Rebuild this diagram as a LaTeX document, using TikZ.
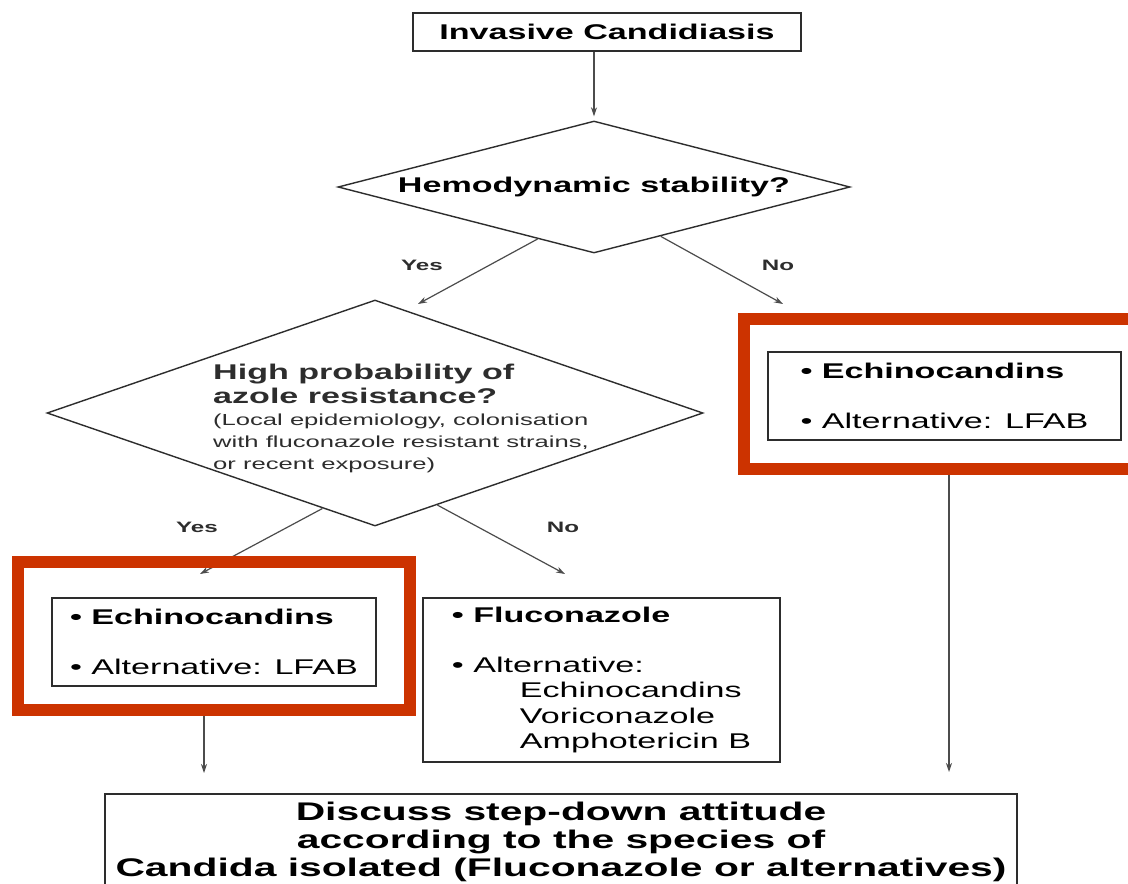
\documentclass[tikz,border=0pt]{standalone}
\usepackage{fontspec}
\setmainfont{Liberation Sans}[FakeStretch=1.6]
\usepackage{tikz}
\usetikzlibrary{shapes.geometric,arrows.meta,calc}

\definecolor{frameRed}{RGB}{204,51,0}
\definecolor{inkGray}{RGB}{45,45,45}

\begin{document}
\begin{tikzpicture}[x=1pt,y=-1pt,
  box/.style={draw=inkGray, line width=1.6pt, align=left, inner sep=0pt, font=\fontsize{21.3}{25.5}\selectfont},
  decision/.style={diamond, draw=inkGray, line width=1.4pt, inner sep=0pt, font=\bfseries\fontsize{21.3}{25.5}\selectfont},
  lbl/.style={font=\bfseries\fontsize{15.1}{18}\selectfont, text=inkGray},
  arr/.style={-{Stealth[length=9pt,width=6pt]}, draw=inkGray!85, line width=1.2pt},
  redframe/.style={draw=frameRed, line width=12pt, inner sep=0pt}]

\useasboundingbox (0,0) rectangle (1128,884);
\clip (0,0) rectangle (1128,884);
\fill[white] (0,0) rectangle (1128,884);

\node[box, minimum width=388pt, minimum height=38pt, align=center, font=\bfseries\fontsize{21.3}{25.5}\selectfont] (ic) at (607,32) {Invasive Candidiasis};

\node[decision, minimum width=512pt, minimum height=132pt, aspect=3.88] (hs) at (594,187) {Hemodynamic stability?};

\node[decision, minimum width=656pt, minimum height=226pt, aspect=2.9] (ar) at (375,413) {};
\node[anchor=west, align=left, inner sep=0pt, text=inkGray, font=\fontsize{16}{22}\selectfont] (art) at (213,418)
  {{\bfseries\fontsize{21.3}{25.5}\selectfont High probability of}\\[2pt]
   {\bfseries\fontsize{21.3}{25.5}\selectfont azole resistance?}\\
   (Local epidemiology, colonisation\\
   with fluconazole resistant strains,\\
   or recent exposure)};

\node[box, minimum width=353pt, minimum height=88pt] (ecR) at (944.5,396)
  {\textbf{• Echinocandins}\\[24pt] • Alternative: LFAB};
\node[box, minimum width=324pt, minimum height=88pt] (ecL) at (214,642)
  {\textbf{• Echinocandins}\\[24pt] • Alternative: LFAB};
\node[box, minimum width=357pt, minimum height=164pt] (fl) at (601.5,680)
  {\textbf{• Fluconazole}\\[24pt] • Alternative:\\
   \hspace*{68pt}Echinocandins\\
   \hspace*{68pt}Voriconazole\\
   \hspace*{68pt}Amphotericin B};

\node[box, minimum width=912pt, minimum height=96pt, align=center, font=\bfseries\fontsize{25.5}{28}\selectfont] (sd) at (561,842)
  {Discuss step-down attitude\\ according to the species of\\ Candida isolated (Fluconazole or alternatives)};

\node[lbl] (yesA) at (422,265) {Yes};
\node[lbl] (noA) at (778,265) {No};
\node[lbl] (yesB) at (197,527) {Yes};
\node[lbl] (noB) at (563,527) {No};

% free arrow ends
\coordinate (tipYA) at (418,304);
\coordinate (tipNA) at (783,304);
\coordinate (tipYB) at (200,574);
\coordinate (tipNB) at (565,574);
\coordinate (tipL) at (204,773);
\coordinate (tipR) at (949,772);

\draw[arr, shorten >=4pt] (ic.south -| hs.north) -- (hs.north);
\draw[arr] ($(hs.south)!0.22!(hs.west)$) -- (tipYA);
\draw[arr] ($(hs.south)!0.26!(hs.east)$) -- (tipNA);
\draw[arr] ($(ar.south)!0.16!(ar.west)$) -- (tipYB);
\draw[arr] ($(ar.south)!0.19!(ar.east)$) -- (tipNB);

% red highlight frames
\node[redframe, minimum width=392pt, minimum height=148pt] (hlL) at (214,636) {};
\node[redframe, minimum width=396pt, minimum height=150pt] (hlR) at (942,394) {};

\draw[arr] (hlL.south -| tipL) -- (tipL);
\draw[arr] (hlR.south -| tipR) -- (tipR);
\end{tikzpicture}
\end{document}
